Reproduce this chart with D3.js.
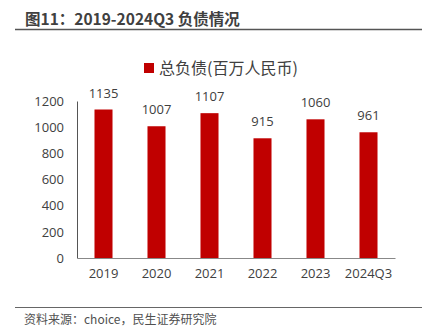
<!DOCTYPE html>
<html><head><meta charset="utf-8">
<script src="https://cdn.jsdelivr.net/npm/d3@7"></script>
<style>body{margin:0;background:#fff;}svg{display:block;}</style>
</head><body>
<script>
const categories = ["2019","2020","2021","2022","2023","2024Q3"];
const values = [1135,1007,1107,915,1060,961];
const yTicks = [0,200,400,600,800,1000,1200];
const seriesName = "总负债(百万人民币)";
const titleText = "图11：2019-2024Q3 负债情况";
const sourceText = "资料来源：choice，民生证券研究院";

const W = 426, H = 336;
const svg = d3.select("body").append("svg").attr("width", W).attr("height", H);
const font = "'Noto Sans CJK SC','Open Sans',sans-serif";
const textColor = "#404040";

// title
svg.append("text").attr("x", 25).attr("y", 25).attr("font-family", font)
  .attr("font-size", 15.5).attr("font-weight", "bold").attr("fill", "#404040").text(titleText);
svg.append("line").attr("x1", 15).attr("x2", 422).attr("y1", 29.5).attr("y2", 29.5)
  .attr("stroke", "#555").attr("stroke-width", 1.3);

const margin = {left: 77, right: 395, top: 101, bottom: 258};
const x = d3.scaleBand().domain(categories).range([margin.left, margin.right]).paddingInner(0.66).paddingOuter(0.33);
const y = d3.scaleLinear().domain([0, 1200]).range([margin.bottom, margin.top]);

// legend
svg.append("rect").attr("x", 144).attr("y", 63).attr("width", 10).attr("height", 10).attr("fill", "#C00000");
svg.append("text").attr("x", 159).attr("y", 74).attr("font-family", font).attr("font-size", 16)
  .attr("fill", textColor).text(seriesName);

// bars
svg.selectAll(".bar").data(values).enter().append("rect")
  .attr("x", (d,i) => x(categories[i])).attr("width", x.bandwidth())
  .attr("y", d => y(d)).attr("height", d => y(0) - y(d)).attr("fill", "#C00000");

// value labels
svg.selectAll(".vl").data(values).enter().append("text")
  .attr("x", (d,i) => x(categories[i]) + x.bandwidth()/2).attr("y", d => y(d) - 12)
  .attr("text-anchor", "middle").attr("font-family", "'Open Sans',sans-serif").attr("font-size", 13)
  .attr("fill", textColor).text(d => d);

// y axis
const yAxis = svg.append("g").attr("transform", `translate(${margin.left},0)`)
  .call(d3.axisLeft(y).tickValues(yTicks).tickFormat(d3.format("d")).tickSize(0).tickPadding(13));
yAxis.select(".domain").attr("stroke", "#555");
yAxis.selectAll("text").attr("font-family", "'Open Sans',sans-serif").attr("font-size", 13).attr("fill", textColor);

// x axis
const xAxis = svg.append("g").attr("transform", `translate(0,${margin.bottom})`)
  .call(d3.axisBottom(x).tickSize(0).tickPadding(11));
xAxis.select(".domain").attr("stroke", "#888").attr("stroke-width", 1.2);
xAxis.selectAll("text").attr("font-family", "'Open Sans',sans-serif").attr("font-size", 13).attr("fill", textColor);

// source
svg.append("line").attr("x1", 15).attr("x2", 422).attr("y1", 307.5).attr("y2", 307.5)
  .attr("stroke", "#666").attr("stroke-width", 1.2);
svg.append("text").attr("x", 24).attr("y", 324).attr("font-family", font).attr("font-size", 12)
  .attr("fill", "#505050").text(sourceText);
</script>
</body></html>
